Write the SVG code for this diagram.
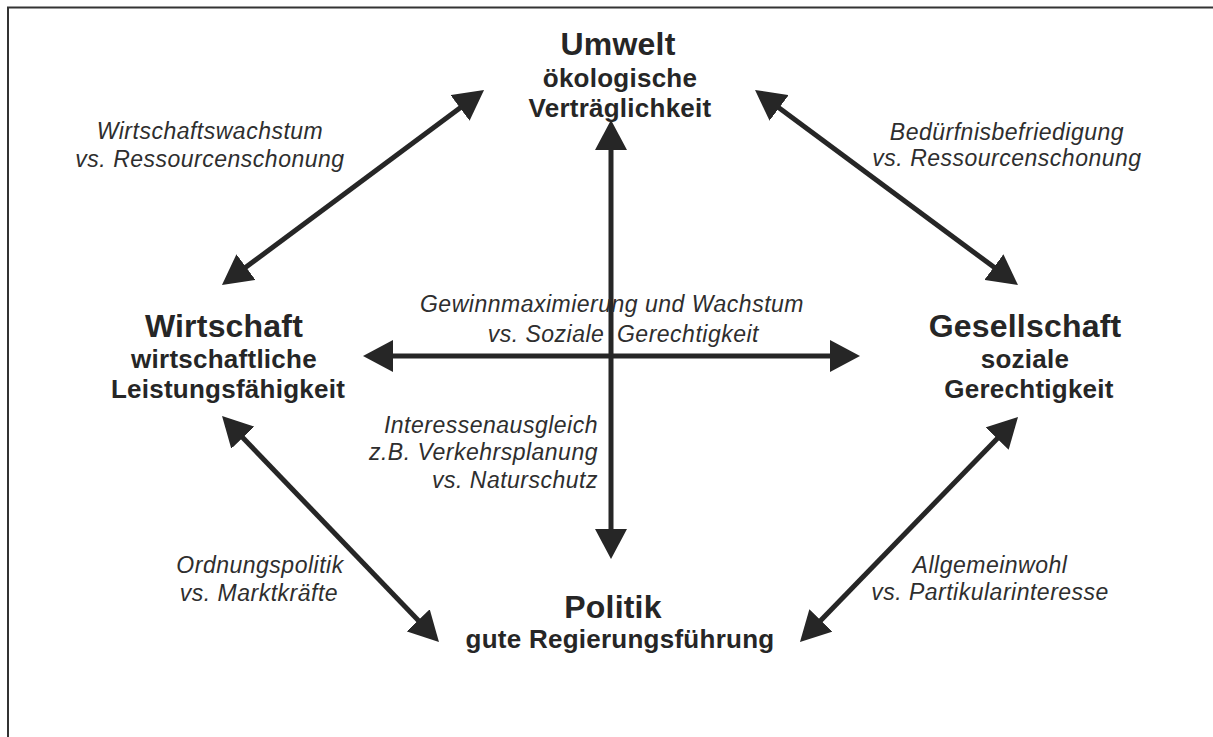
<svg xmlns="http://www.w3.org/2000/svg" width="1213" height="737" viewBox="0 0 1213 737">
<style>
.t{font-family:"Liberation Sans",Arial,sans-serif;fill:#262626;text-anchor:middle}
.h{font-size:32px;font-weight:bold;letter-spacing:0.2px}
.s{font-size:26px;font-weight:bold;letter-spacing:0.25px}
.i{font-family:"Liberation Sans",Arial,sans-serif;fill:#2e2e2e;font-size:23px;font-style:italic;letter-spacing:0.5px;text-anchor:middle}
.c{stroke:#262626;stroke-width:5;fill:none;marker-start:url(#ah);marker-end:url(#ah)}
</style>
<defs>
<marker id="ah" viewBox="0 0 30 32" refX="10" refY="16" markerWidth="30" markerHeight="32" markerUnits="userSpaceOnUse" orient="auto-start-reverse">
<path d="M0,0 L30,16 L0,32 Z" fill="#262626"/>
</marker>
</defs>
<rect width="1213" height="737" fill="#fff"/>
<path d="M8,737 V7.5 H1213" fill="none" stroke="#333" stroke-width="2"/>
<g id="connectors">
<line class="c" x1="238" y1="273.1" x2="468" y2="101.9"/>
<line class="c" x1="771.1" y1="101.9" x2="1001.9" y2="273.1"/>
<line class="c" x1="235.9" y1="430.4" x2="425.1" y2="627.6"/>
<line class="c" x1="1004.1" y1="431.4" x2="813.9" y2="627.6"/>
<line class="c" x1="611" y1="140" x2="611" y2="539"/>
<line class="c" x1="383" y1="356" x2="840" y2="356"/>
</g>
<g id="labels">
<text class="i" x="210" y="139">Wirtschaftswachstum</text>
<text class="i" x="210" y="167">vs. Ressourcenschonung</text>
<text class="i" x="1007" y="140">Bedürfnisbefriedigung</text>
<text class="i" x="1007" y="166">vs. Ressourcenschonung</text>
<text class="i" x="612" y="312">Gewinnmaximierung und Wachstum</text>
<text class="i" x="546" y="342">vs. Soziale</text>
<text class="i" x="688" y="342">Gerechtigkeit</text>
<text class="i" x="598" y="433" style="text-anchor:end">Interessenausgleich</text>
<text class="i" x="598" y="460" style="text-anchor:end">z.B. Verkehrsplanung</text>
<text class="i" x="598" y="488" style="text-anchor:end">vs. Naturschutz</text>
<text class="i" x="260" y="573">Ordnungspolitik</text>
<text class="i" x="259" y="601">vs. Marktkräfte</text>
<text class="i" x="990" y="573">Allgemeinwohl</text>
<text class="i" x="990" y="600">vs. Partikularinteresse</text>
</g>
<g id="umwelt">
<text class="t h" x="618" y="55">Umwelt</text>
<text class="t s" x="620" y="87">ökologische</text>
<text class="t s" x="620" y="117">Verträglichkeit</text>
</g>
<g id="wirtschaft">
<text class="t h" x="224" y="337">Wirtschaft</text>
<text class="t s" x="224" y="368">wirtschaftliche</text>
<text class="t s" x="228" y="398">Leistungsfähigkeit</text>
</g>
<g id="gesellschaft">
<text class="t h" x="1025" y="337">Gesellschaft</text>
<text class="t s" x="1025" y="368">soziale</text>
<text class="t s" x="1029" y="398">Gerechtigkeit</text>
</g>
<g id="politik">
<text class="t h" x="613" y="618">Politik</text>
<text class="t s" x="620" y="648">gute Regierungsführung</text>
</g>
</svg>
